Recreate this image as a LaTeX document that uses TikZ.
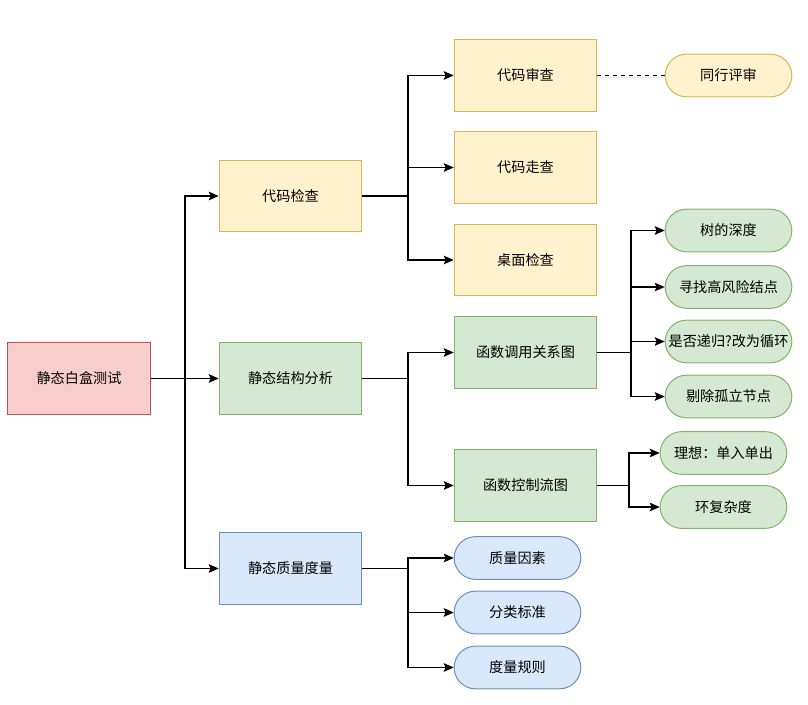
\documentclass[tikz,border=0pt]{standalone}
\usepackage{fontspec}
\setmainfont{Noto Sans CJK SC}
\usepackage{tikz}
\usetikzlibrary{arrows.meta,positioning}
\definecolor{cred}{HTML}{F8CECC}
\definecolor{credD}{HTML}{B85450}
\definecolor{cyel}{HTML}{FFF2CC}
\definecolor{cyelD}{HTML}{D6B656}
\definecolor{cgrn}{HTML}{D5E8D4}
\definecolor{cgrnD}{HTML}{82B366}
\definecolor{cblu}{HTML}{DAE8FC}
\definecolor{cbluD}{HTML}{6C8EBF}
\tikzset{
  fbox/.style={draw, align=center, line width=0.75pt, inner xsep=1pt,
               minimum width=107pt, minimum height=53.5pt,
               font=\fontsize{10.6}{12}\selectfont},
  fpill/.style={fbox, rounded corners=16pt, minimum width=95pt, minimum height=32pt},
  nroot/.style={fbox, fill=cred, draw=credD},
  nyel/.style={fbox, fill=cyel, draw=cyelD},
  ngrn/.style={fbox, fill=cgrn, draw=cgrnD},
  nblu/.style={fbox, fill=cblu, draw=cbluD},
  pyel/.style={fpill, fill=cyel, draw=cyelD},
  pgrn/.style={fpill, fill=cgrn, draw=cgrnD},
  pblu/.style={fpill, fill=cblu, draw=cbluD},
  flow/.style={-{Stealth[length=7.5pt,width=6.5pt,inset=1.5pt]}, line width=0.9pt},
  link/.style={line width=0.8pt, dash pattern=on 3pt off 3pt},
}

\begin{document}
\begin{tikzpicture}[x=0.75pt, y=-0.75pt]
  \useasboundingbox (0,0) rectangle (808,705);
  % level 0 / 1
  \node[nroot] (root) at (79,378.5) {静态白盒测试};
  \node[nyel] (dm) at (290.5,196) {代码检查};
  \node[ngrn] (jg) at (290.5,378.5) {静态结构分析};
  \node[nblu] (zl) at (290.5,568.5) {静态质量度量};
  % level 2
  \node[nyel] (sc) at (525.5,75.5) {代码审查};
  \node[nyel] (zc) at (525.5,167.5) {代码走查};
  \node[nyel] (zm) at (525.5,260) {桌面检查};
  \node[ngrn] (tu) at (525.5,352.5) {函数调用关系图};
  \node[ngrn] (lt) at (525.5,485.5) {函数控制流图};
  \node[pblu] (ys) at (517.5,558) {质量因素};
  \node[pblu] (bz) at (517.5,612.5) {分类标准};
  \node[pblu] (gz) at (517.5,667.5) {度量规则};
  % level 3
  \node[pyel] (tp) at (728.5,75.5) {同行评审};
  \node[pgrn] (sd) at (728.5,230.5) {树的深度};
  \node[pgrn] (fx) at (728.5,287) {寻找高风险结点};
  \node[pgrn] (dg) at (728.5,341.5) {是否递归?改为循环};
  \node[pgrn] (gl) at (728.5,396.5) {剔除孤立节点};
  \node[pgrn] (lx) at (723.5,453) {理想：单入单出};
  \node[pgrn] (fz) at (723.5,507) {环复杂度};
  % junctions
  \coordinate (j1) at (185,0);
  \coordinate (j2) at (408,0);
  \coordinate (j3) at (631,0);
  \coordinate (j4) at (629,0);
  % connectors
  \draw[flow] (root.east) -- (j1 |- root.east) |- (dm.west);
  \draw[flow] (root.east) -- (jg.west);
  \draw[flow] (root.east) -- (j1 |- root.east) |- (zl.west);
  \foreach \t in {sc,zc,zm}
    \draw[flow] (dm.east) -- (j2 |- dm.east) |- (\t.west);
  \draw[link] (sc.east) -- (tp.west);
  \foreach \t in {tu,lt}
    \draw[flow] (jg.east) -- (j2 |- jg.east) |- (\t.west);
  \foreach \t in {sd,fx,dg,gl}
    \draw[flow] (tu.east) -- (j3 |- tu.east) |- (\t.west);
  \foreach \t in {lx,fz}
    \draw[flow] (lt.east) -- (j4 |- lt.east) |- (\t.west);
  \foreach \t in {ys,bz,gz}
    \draw[flow] (zl.east) -- (j2 |- zl.east) |- (\t.west);
\end{tikzpicture}
\end{document}
